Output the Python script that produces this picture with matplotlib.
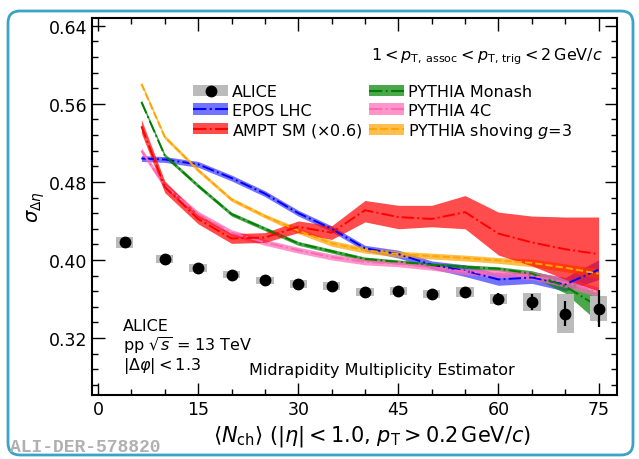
import matplotlib
matplotlib.use("Agg")
import matplotlib.pyplot as plt
import numpy as np
from matplotlib.patches import Patch, FancyBboxPatch
from matplotlib.lines import Line2D
from matplotlib.transforms import IdentityTransform
from matplotlib.ticker import MultipleLocator

# ALICE data
alice_x = [4, 10, 15, 20, 25, 30, 35, 40, 45, 50, 55, 60, 65, 70, 75]
alice_y = [0.418, 0.401, 0.392, 0.385, 0.379, 0.375, 0.373, 0.367, 0.368, 0.365, 0.367, 0.360, 0.357, 0.345, 0.350]
alice_stat = [0.002, 0.002, 0.002, 0.002, 0.002, 0.002, 0.002, 0.002, 0.002, 0.002, 0.002, 0.006, 0.008, 0.013, 0.019]
alice_syst = [0.006, 0.004, 0.004, 0.004, 0.004, 0.004, 0.004, 0.004, 0.004, 0.004, 0.005, 0.005, 0.009, 0.020, 0.013]

# models
model_x = [6.5, 10, 15, 20, 25, 30, 35, 40, 45, 50, 55, 60, 65, 70, 75]

epos_y = [0.504, 0.503, 0.498, 0.484, 0.468, 0.448, 0.432, 0.412, 0.406, 0.395, 0.389, 0.380, 0.382, 0.375, 0.390]
epos_err = [0.003, 0.003, 0.003, 0.003, 0.003, 0.003, 0.003, 0.003, 0.004, 0.004, 0.006, 0.006, 0.006, 0.007, 0.010]

ampt_y = [0.537, 0.475, 0.442, 0.422, 0.423, 0.434, 0.428, 0.451, 0.444, 0.442, 0.449, 0.427, 0.418, 0.411, 0.406]
ampt_lo = [0.530, 0.469, 0.437, 0.417, 0.418, 0.428, 0.421, 0.439, 0.432, 0.434, 0.432, 0.405, 0.394, 0.380, 0.368]
ampt_hi = [0.544, 0.481, 0.447, 0.427, 0.428, 0.440, 0.435, 0.461, 0.456, 0.456, 0.466, 0.449, 0.445, 0.444, 0.444]

monash_y = [0.562, 0.507, 0.476, 0.447, 0.432, 0.417, 0.409, 0.401, 0.398, 0.395, 0.393, 0.391, 0.386, 0.373, 0.352]
monash_lo = [0.560, 0.505, 0.474, 0.445, 0.430, 0.415, 0.407, 0.399, 0.396, 0.393, 0.391, 0.389, 0.383, 0.366, 0.336]
monash_hi = [0.564, 0.509, 0.478, 0.449, 0.434, 0.419, 0.411, 0.403, 0.400, 0.397, 0.395, 0.393, 0.389, 0.380, 0.366]

p4c_y = [0.512, 0.476, 0.447, 0.428, 0.418, 0.410, 0.403, 0.398, 0.396, 0.3925, 0.388, 0.386, 0.384, 0.377, 0.367]
p4c_err = [0.003, 0.003, 0.003, 0.003, 0.003, 0.003, 0.003, 0.003, 0.003, 0.003, 0.003, 0.004, 0.004, 0.005, 0.005]

shove_y = [0.5805, 0.526, 0.492, 0.462, 0.445, 0.430, 0.417, 0.410, 0.406, 0.404, 0.402, 0.3995, 0.397, 0.392, 0.386]
shove_err = [0.002, 0.002, 0.002, 0.002, 0.002, 0.003, 0.003, 0.003, 0.003, 0.003, 0.003, 0.003, 0.004, 0.004, 0.005]

fig = plt.figure(figsize=(6.39, 4.60), dpi=100)
ax = fig.add_axes([0.144, 0.139, 0.822, 0.8196])

def band(y, lo, hi, color, ls, alpha):
    ax.fill_between(model_x, lo, hi, color=color, alpha=alpha, lw=0, zorder=2)
    ax.plot(model_x, y, color=color, ls=ls, lw=1.4, zorder=3)

band(epos_y, np.array(epos_y) - epos_err, np.array(epos_y) + epos_err, "#0000ff", "-.", 0.55)
band(monash_y, monash_lo, monash_hi, "#008000", "-.", 0.7)
band(p4c_y, np.array(p4c_y) - p4c_err, np.array(p4c_y) + p4c_err, "#ff69b4", "-.", 0.7)
band(shove_y, np.array(shove_y) - shove_err, np.array(shove_y) + shove_err, "#ffa500", "--", 0.7)
band(ampt_y, ampt_lo, ampt_hi, "#ff0000", "-.", 0.7)

# ALICE syst boxes + points
for xi, yi, si in zip(alice_x, alice_y, alice_syst):
    ax.add_patch(plt.Rectangle((xi - 1.3, yi - si), 2.6, 2 * si, color="#bbbbbb", lw=0, zorder=4))
ax.errorbar(alice_x, alice_y, yerr=alice_stat, fmt="o", color="black", ms=7.5, elinewidth=1.6, capsize=0, zorder=5)

ax.set_xlim(-0.9, 77.8)
ax.set_ylim(0.2615, 0.648)
ax.xaxis.set_major_locator(MultipleLocator(15))
ax.xaxis.set_minor_locator(MultipleLocator(5))
ax.yaxis.set_major_locator(MultipleLocator(0.08))
ax.yaxis.set_minor_locator(MultipleLocator(0.016))
ax.yaxis.set_major_formatter(matplotlib.ticker.FormatStrFormatter("%.2f"))
ax.tick_params(which="both", direction="in", top=True, right=True, labelsize=12.5)
ax.tick_params(which="major", length=9, width=1.0)
ax.tick_params(which="minor", length=4, width=1.0)
for s in ax.spines.values():
    s.set_linewidth(1.5)

ax.set_xlabel(r"$\langle N_{\rm ch}\rangle$ ($|\eta| < 1.0$, $p_{\rm T} > 0.2\,{\rm GeV}/c$)", fontsize=15, labelpad=4)
ax.xaxis.label.set_x(0.533)
ax.set_ylabel(r"$\sigma_{\Delta\eta}$", fontsize=14, labelpad=1)

ax.text(0.973, 0.899, r"$1 < p_{\rm T,\,assoc} < p_{\rm T,\,trig} < 2\,{\rm GeV}/c$",
        transform=ax.transAxes, ha="right", va="center", fontsize=11.5)
ax.text(0.059, 0.205, "ALICE\npp $\\sqrt{s}$ = 13 TeV\n$|\\Delta\\varphi| < 1.3$",
        transform=ax.transAxes, ha="left", va="top", fontsize=11.5, linespacing=1.05)
ax.text(0.552, 0.069, "Midrapidity Multiplicity Estimator", transform=ax.transAxes,
        ha="center", va="center", fontsize=11.5)

def h(color, ls, alpha):
    return (Patch(facecolor=color, alpha=alpha, lw=0), Line2D([], [], color=color, ls=ls, lw=1.5))

handles = [
    (Patch(facecolor="#bbbbbb", lw=0), Line2D([], [], color="black", marker="o", ls="none", ms=7.5)),
    h("#0000ff", "-.", 0.55),
    h("#ff0000", "-.", 0.7),
    h("#008000", "-.", 0.7),
    h("#ff69b4", "-.", 0.7),
    h("#ffa500", "--", 0.7),
]
labels = ["ALICE", "EPOS LHC", r"AMPT SM ($\times$0.6)", "PYTHIA Monash", "PYTHIA 4C",
          r"PYTHIA shoving $g$=3"]
ax.legend(handles, labels, ncol=2, loc="upper left", bbox_to_anchor=(0.18, 0.841),
          frameon=False, fontsize=11.5, handlelength=2.2, handletextpad=0.25,
          columnspacing=0.4, labelspacing=0.2, borderaxespad=0)

fig.text(0.016, 0.028, "ALI-DER-578820", family="Liberation Mono", fontsize=13,
         weight="bold", color="#b0b0b0", ha="left", va="center")

frame = FancyBboxPatch((8, 4), 625, 444, boxstyle="round,pad=0,rounding_size=12",
                       transform=IdentityTransform(), fill=False, edgecolor="#3ba3c4", lw=2)
fig.add_artist(frame)

fig.savefig("out.png", dpi=100)
